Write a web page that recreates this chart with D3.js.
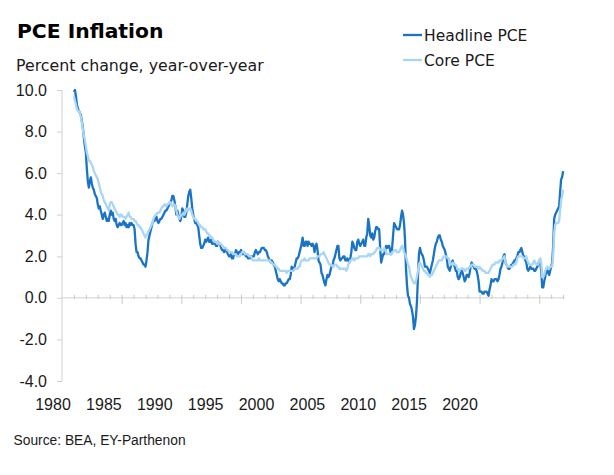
<!DOCTYPE html>
<html>
<head>
<meta charset="utf-8">
<script src="https://cdn.jsdelivr.net/npm/d3@7/dist/d3.min.js"></script>
<style>
  html, body { margin: 0; padding: 0; background: #fff; }
  svg { display: block; }
</style>
</head>
<body>
<svg id="chart" width="614" height="475"></svg>
<script>
// ---------------- DATA ----------------
const title = "PCE Inflation";
const subtitle = "Percent change, year-over-year";
const source = "Source: BEA, EY-Parthenon";
const seriesNames = ["Headline PCE", "Core PCE"];
const startYear = 1981; // monthly data, January 1981 onward
const xTickLabels = ["1980", "1985", "1990", "1995", "2000", "2005", "2010", "2015", "2020"];
const yTickValues = [-4, -2, 0, 2, 4, 6, 8, 10];

// Headline PCE, y/y %, monthly
const headline = [
  9.9, 10.0, 9.7, 9.3, 9.1, 9.0, 8.9, 8.8, 8.5, 8.2, 7.7, 7.3,   // 1981
  7.0, 6.2, 5.6, 5.3, 5.6, 5.8, 5.5, 5.3, 5.2, 5.0, 4.9, 4.8,    // 1982
  4.5, 4.3, 4.4, 4.2, 4.0, 3.8, 4.0, 4.1, 3.9, 3.7, 3.8, 3.7,    // 1983
  4.0, 4.2, 4.0, 4.1, 3.8, 3.7, 3.8, 3.5, 3.4, 3.5, 3.6, 3.5,    // 1984
  3.5, 3.6, 3.7, 3.5, 3.6, 3.4, 3.5, 3.4, 3.6, 3.5, 3.6, 3.5,    // 1985
  3.5, 3.3, 2.6, 2.2, 2.2, 2.0, 1.9, 1.9, 1.8, 1.7, 1.6, 1.6,    // 1986
  1.5, 1.8, 2.2, 2.8, 3.0, 3.2, 3.4, 3.6, 3.7, 3.7, 3.8, 3.9,    // 1987
  3.7, 3.6, 3.7, 3.8, 3.8, 3.9, 4.0, 4.1, 4.2, 4.2, 4.3, 4.4,    // 1988
  4.5, 4.6, 4.7, 4.9, 4.9, 4.7, 4.4, 4.0, 4.2, 4.0, 3.8, 3.7,    // 1989
  3.9, 4.3, 4.2, 3.9, 3.9, 4.1, 4.5, 4.9, 5.1, 5.2, 4.8, 4.3,    // 1990
  4.0, 3.8, 3.6, 3.6, 3.5, 3.4, 3.0, 2.6, 2.4, 2.4, 2.5, 2.6,    // 1991
  2.8, 2.7, 2.8, 2.9, 2.7, 2.7, 2.8, 2.6, 2.6, 2.7, 2.6, 2.5,    // 1992
  2.5, 2.7, 2.6, 2.6, 2.4, 2.3, 2.3, 2.2, 2.3, 2.3, 2.2, 2.1,    // 1993
  2.0, 2.0, 2.1, 1.9, 1.9, 2.1, 2.1, 2.3, 2.2, 2.1, 2.2, 2.2,    // 1994
  2.3, 2.2, 2.1, 2.2, 2.1, 2.0, 2.0, 1.9, 1.9, 2.0, 1.9, 2.0,    // 1995
  2.0, 2.0, 2.2, 2.3, 2.2, 2.1, 2.2, 2.2, 2.3, 2.4, 2.4, 2.4,    // 1996
  2.3, 2.3, 2.2, 2.0, 1.9, 1.8, 1.7, 1.8, 1.7, 1.6, 1.5, 1.3,    // 1997
  1.1, 0.9, 0.8, 0.9, 0.8, 0.7, 0.7, 0.6, 0.6, 0.7, 0.7, 0.8,    // 1998
  0.9, 0.9, 1.1, 1.5, 1.4, 1.4, 1.5, 1.7, 1.9, 1.9, 2.0, 2.2,    // 1999
  2.4, 2.6, 2.9, 2.5, 2.5, 2.7, 2.7, 2.5, 2.7, 2.6, 2.6, 2.5,    // 2000
  2.6, 2.5, 2.2, 2.5, 2.6, 2.3, 1.8, 1.7, 1.6, 1.2, 1.1, 0.9,    // 2001
  0.7, 0.6, 0.9, 1.1, 1.0, 1.1, 1.3, 1.5, 1.5, 1.8, 1.9, 2.1,    // 2002
  2.3, 2.5, 2.5, 1.9, 1.8, 1.9, 1.9, 2.0, 2.0, 1.8, 1.8, 1.9,    // 2003
  1.8, 1.7, 1.9, 2.2, 2.7, 2.6, 2.4, 2.3, 2.3, 2.7, 2.8, 2.6,    // 2004
  2.5, 2.6, 2.7, 2.8, 2.5, 2.5, 2.9, 3.1, 3.8, 3.5, 3.0, 2.9,    // 2005
  3.1, 2.8, 2.9, 3.2, 3.4, 3.4, 3.3, 3.3, 2.4, 1.7, 1.9, 2.1,    // 2006
  2.1, 2.3, 2.5, 2.4, 2.5, 2.5, 2.3, 2.1, 2.4, 3.0, 3.6, 3.5,    // 2007
  3.4, 3.3, 3.3, 3.3, 3.5, 3.9, 4.2, 4.0, 3.6, 2.8, 1.4, 0.6,    // 2008
  0.1, 0.0, -0.3, -0.4, -0.6, -0.9, -1.5, -1.3, -0.9, -0.2, 1.0, 2.1, // 2009
  2.4, 2.2, 2.1, 2.0, 1.8, 1.5, 1.5, 1.5, 1.4, 1.3, 1.2, 1.4,    // 2010
  1.6, 1.8, 2.1, 2.4, 2.6, 2.7, 2.9, 3.0, 3.0, 2.8, 2.7, 2.5,    // 2011
  2.4, 2.3, 2.1, 1.9, 1.5, 1.4, 1.3, 1.5, 1.7, 1.8, 1.6, 1.5,    // 2012
  1.3, 1.3, 1.0, 0.9, 1.0, 1.2, 1.3, 1.2, 1.0, 0.8, 0.9, 1.1,    // 2013
  1.1, 1.0, 1.2, 1.5, 1.7, 1.6, 1.5, 1.4, 1.4, 1.3, 1.1, 0.8,    // 2014
  0.3, 0.3, 0.3, 0.2, 0.2, 0.3, 0.3, 0.3, 0.2, 0.1, 0.4, 0.6,    // 2015
  0.9, 0.8, 0.8, 0.9, 0.9, 0.9, 0.8, 0.9, 1.1, 1.4, 1.5, 1.7,    // 2016
  2.0, 2.1, 1.7, 1.6, 1.5, 1.4, 1.4, 1.5, 1.6, 1.6, 1.7, 1.8,    // 2017
  1.8, 1.9, 2.0, 2.2, 2.2, 2.3, 2.4, 2.2, 2.0, 2.0, 1.8, 1.7,    // 2018
  1.4, 1.3, 1.4, 1.5, 1.4, 1.4, 1.4, 1.3, 1.3, 1.4, 1.5, 1.6,    // 2019
  1.8, 1.7, 1.3, 0.5, 0.5, 0.8, 1.0, 1.3, 1.4, 1.2, 1.1, 1.3,    // 2020
  1.5, 1.7, 2.5, 3.8, 4.0, 4.1, 4.2, 4.3, 4.4, 5.1, 5.7, 5.8,    // 2021
  6.1                                                              // 2022
];

// Core PCE, y/y %, monthly
const core = [
  9.7, 9.5, 9.3, 9.1, 9.0, 9.0, 8.9, 8.7, 8.4, 8.1, 7.8, 7.6,    // 1981
  7.3, 7.0, 6.8, 6.6, 6.6, 6.5, 6.4, 6.3, 6.1, 6.0, 5.9, 5.8,    // 1982
  5.7, 5.5, 5.3, 5.1, 5.0, 4.9, 4.7, 4.6, 4.5, 4.4, 4.3, 4.2,    // 1983
  4.5, 4.6, 4.6, 4.5, 4.4, 4.3, 4.2, 4.1, 4.0, 4.0, 3.9, 4.0,    // 1984
  4.0, 3.9, 3.9, 3.9, 3.8, 3.9, 4.0, 4.1, 3.9, 3.9, 3.8, 3.8,    // 1985
  3.8, 3.7, 3.7, 3.6, 3.5, 3.5, 3.4, 3.4, 3.3, 3.2, 3.1, 3.0,    // 1986
  2.9, 3.0, 3.1, 3.2, 3.3, 3.4, 3.5, 3.6, 3.8, 3.9, 4.0, 4.0,    // 1987
  4.1, 4.1, 4.1, 4.2, 4.3, 4.4, 4.4, 4.5, 4.5, 4.4, 4.5, 4.5,    // 1988
  4.6, 4.6, 4.5, 4.4, 4.5, 4.5, 4.4, 4.2, 4.0, 3.9, 3.8, 3.9,    // 1989
  4.0, 4.0, 4.1, 4.0, 4.1, 4.2, 4.3, 4.2, 4.3, 4.3, 4.2, 4.0,    // 1990
  3.9, 3.8, 3.8, 3.7, 3.7, 3.6, 3.5, 3.5, 3.4, 3.4, 3.3, 3.3,    // 1991
  3.3, 3.2, 3.1, 3.1, 3.0, 3.0, 2.9, 2.9, 2.8, 2.7, 2.7, 2.7,    // 1992
  2.6, 2.7, 2.6, 2.6, 2.6, 2.5, 2.5, 2.4, 2.4, 2.4, 2.3, 2.3,    // 1993
  2.2, 2.2, 2.2, 2.2, 2.1, 2.1, 2.1, 2.1, 2.0, 2.0, 2.0, 2.0,    // 1994
  2.1, 2.2, 2.2, 2.2, 2.1, 2.1, 2.1, 2.1, 2.0, 2.0, 2.0, 1.9,    // 1995
  1.8, 1.8, 1.8, 1.8, 1.8, 1.8, 1.9, 1.8, 1.8, 1.8, 1.8, 1.8,    // 1996
  1.8, 1.8, 1.8, 1.8, 1.8, 1.8, 1.7, 1.7, 1.6, 1.6, 1.6, 1.5,    // 1997
  1.5, 1.4, 1.4, 1.3, 1.3, 1.3, 1.3, 1.3, 1.3, 1.3, 1.2, 1.3,    // 1998
  1.3, 1.3, 1.3, 1.3, 1.3, 1.3, 1.4, 1.4, 1.4, 1.4, 1.5, 1.5,    // 1999
  1.7, 1.8, 1.8, 1.8, 1.9, 1.8, 1.8, 1.8, 1.8, 1.9, 1.9, 1.9,    // 2000
  1.9, 1.9, 1.9, 1.9, 1.9, 2.0, 2.0, 2.0, 2.1, 2.1, 2.1, 2.2,    // 2001
  2.1, 2.0, 1.9, 1.8, 1.7, 1.6, 1.6, 1.6, 1.5, 1.5, 1.6, 1.6,    // 2002
  1.6, 1.5, 1.5, 1.4, 1.4, 1.4, 1.4, 1.4, 1.4, 1.4, 1.3, 1.4,    // 2003
  1.6, 1.7, 1.8, 1.8, 1.9, 1.9, 1.8, 1.9, 1.9, 1.9, 1.9, 2.0,    // 2004
  2.0, 2.0, 2.0, 2.0, 2.0, 2.0, 2.0, 2.0, 2.1, 2.1, 2.0, 2.1,    // 2005
  2.1, 2.1, 2.2, 2.2, 2.3, 2.4, 2.4, 2.4, 2.3, 2.3, 2.3, 2.3,    // 2006
  2.4, 2.3, 2.2, 2.1, 2.1, 2.1, 2.1, 2.1, 2.2, 2.2, 2.3, 2.3,    // 2007
  2.3, 2.2, 2.2, 2.2, 2.3, 2.4, 2.5, 2.4, 2.2, 2.1, 2.0, 1.8,    // 2008
  1.6, 1.5, 1.2, 1.0, 0.9, 0.8, 0.7, 0.7, 0.8, 1.0, 1.3, 1.6,    // 2009
  1.7, 1.6, 1.5, 1.4, 1.3, 1.3, 1.2, 1.2, 1.1, 1.1, 1.0, 1.1,    // 2010
  1.1, 1.2, 1.3, 1.4, 1.5, 1.6, 1.7, 1.8, 1.8, 1.8, 1.8, 1.9,    // 2011
  2.0, 2.0, 2.0, 2.0, 1.9, 1.9, 1.7, 1.6, 1.6, 1.7, 1.6, 1.6,    // 2012
  1.6, 1.5, 1.4, 1.3, 1.3, 1.4, 1.4, 1.4, 1.4, 1.3, 1.3, 1.4,    // 2013
  1.4, 1.4, 1.5, 1.5, 1.6, 1.6, 1.6, 1.5, 1.5, 1.5, 1.5, 1.4,    // 2014
  1.5, 1.4, 1.4, 1.3, 1.3, 1.3, 1.2, 1.2, 1.2, 1.2, 1.3, 1.4,    // 2015
  1.5, 1.6, 1.6, 1.6, 1.7, 1.7, 1.7, 1.7, 1.8, 1.8, 1.8, 1.9,    // 2016
  1.9, 2.0, 1.7, 1.6, 1.5, 1.5, 1.5, 1.5, 1.5, 1.5, 1.6, 1.6,    // 2017
  1.6, 1.7, 1.9, 2.0, 2.0, 2.0, 2.0, 2.0, 1.9, 1.9, 1.9, 2.0,    // 2018
  1.8, 1.7, 1.6, 1.6, 1.6, 1.6, 1.7, 1.8, 1.7, 1.6, 1.6, 1.6,    // 2019
  1.8, 1.9, 1.7, 1.0, 1.0, 1.1, 1.3, 1.4, 1.5, 1.4, 1.4, 1.5,    // 2020
  1.5, 1.5, 2.0, 3.1, 3.5, 3.6, 3.6, 3.6, 3.7, 4.2, 4.7, 4.9,    // 2021
  5.2                                                              // 2022
];

// ---------------- CHART ----------------
const colors = { headline: "#1a74c6", core: "#a9d6f5", axis: "#d0d0d0", text: "#1a1a1a" };
const svg = d3.select("#chart");

const x = d3.scaleLinear().domain([1980, 2022.1]).range([62, 564.3]);
const y = d3.scaleLinear().domain([-4, 10]).range([381, 90]);
const labelScale = d3.scalePoint().domain(xTickLabels).range([53, 460]);

// Title & subtitle
svg.append("text").attr("x", 17).attr("y", 37.5)
  .attr("font-family", "DejaVu Sans").attr("font-weight", "bold").attr("font-size", 20.3)
  .attr("fill", "#000").text(title);
svg.append("text").attr("x", 16).attr("y", 70.5)
  .attr("font-family", "DejaVu Sans").attr("font-size", 15.8)
  .attr("fill", colors.text).text(subtitle);

// Y axis
const yAxis = d3.axisLeft(y).tickValues(yTickValues).tickSize(5).tickPadding(10)
  .tickFormat(d => d.toFixed(1));
const gy = svg.append("g").attr("transform", "translate(62,0)").call(yAxis);
gy.select(".domain").attr("stroke", colors.axis).attr("d", `M0,${y(10)}V${y(-4)}`);
gy.selectAll(".tick line").attr("stroke", colors.axis);
gy.selectAll(".tick text").attr("font-family", "Liberation Sans").attr("font-size", 16)
  .attr("fill", colors.text).attr("x", -15);

// X axis along zero line: minor ticks every year, major every 5
const minorYears = d3.range(1981, 2023).filter(d => d % 5 !== 0);
const majorYears = d3.range(1985, 2023, 5);
const gx = svg.append("g").attr("transform", `translate(0,${y(0)})`);
gx.append("path").attr("d", `M${x(1980)},0H${x(2022.1)}`).attr("stroke", colors.axis).attr("fill", "none");
gx.append("g").call(d3.axisBottom(x).tickValues(minorYears).tickSize(3).tickFormat(""))
  .call(g => g.select(".domain").remove())
  .call(g => g.selectAll(".tick line").attr("stroke", "#c8c8c8").attr("y1", -3).attr("y2", 1));
gx.append("g").call(d3.axisBottom(x).tickValues(majorYears).tickSize(6).tickFormat(""))
  .call(g => g.select(".domain").remove())
  .call(g => g.selectAll(".tick line").attr("stroke", "#c8c8c8").attr("y1", -3).attr("y2", 6));

// X labels (evenly spaced below plot)
svg.append("g").selectAll("text").data(xTickLabels).join("text")
  .attr("x", d => labelScale(d)).attr("y", 410)
  .attr("text-anchor", "middle")
  .attr("font-family", "Liberation Sans").attr("font-size", 16)
  .attr("fill", colors.text).text(d => d);

// Lines
const toPoints = arr => arr.map((v, i) => ({ t: startYear + i / 12, v }));
const line = d3.line().x(d => x(d.t)).y(d => y(d.v)).curve(d3.curveLinear);

svg.append("path").datum(toPoints(headline))
  .attr("fill", "none").attr("stroke", colors.headline).attr("stroke-width", 2.3)
  .attr("stroke-linejoin", "round").attr("d", line);
svg.append("path").datum(toPoints(core))
  .attr("fill", "none").attr("stroke", colors.core).attr("stroke-width", 2.3)
  .attr("stroke-linejoin", "round").attr("d", line);

// Legend
const legend = svg.append("g");
const legendItems = [
  { name: seriesNames[0], color: colors.headline, yy: 35 },
  { name: seriesNames[1], color: colors.core, yy: 60 }
];
legendItems.forEach(it => {
  legend.append("line").attr("x1", 403).attr("x2", 422).attr("y1", it.yy).attr("y2", it.yy)
    .attr("stroke", it.color).attr("stroke-width", 2.3);
  legend.append("text").attr("x", 424).attr("y", it.yy + 6)
    .attr("font-family", "DejaVu Sans").attr("font-size", 15.5)
    .attr("fill", colors.text).text(it.name);
});

// Source
svg.append("text").attr("x", 13.5).attr("y", 445)
  .attr("font-family", "Liberation Sans").attr("font-size", 13.8)
  .attr("fill", colors.text).text(source);
</script>
</body>
</html>
